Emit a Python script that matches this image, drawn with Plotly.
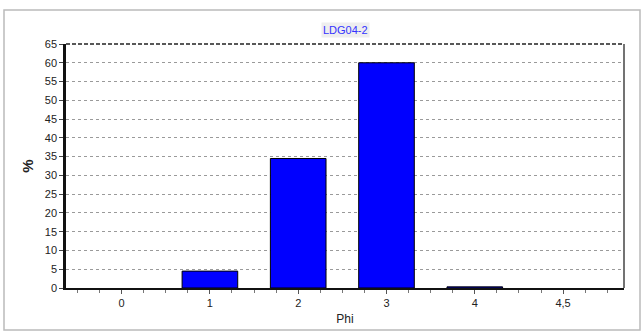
import plotly.graph_objects as go

categories = ["0", "1", "2", "3", "4", "4,5"]
values = [0.0, 4.5, 34.5, 60.0, 0.3, 0.0]
y_ticks = list(range(0, 70, 5))

xpos = list(range(len(categories)))
line_widths = [0 if v == 0 else 1 for v in values]

L, R, T, B = 66, 19, 44, 44
W, H = 643, 332
pw, ph = W - L - R, H - T - B

fig = go.Figure()
fig.add_trace(go.Bar(
    x=xpos, y=values, width=0.63,
    marker=dict(color="#0000FF", line=dict(color="black", width=line_widths)),
))

fig.update_layout(
    width=W, height=H,
    margin=dict(l=L, r=R, t=T, b=B, autoexpand=False),
    paper_bgcolor="white", plot_bgcolor="white",
    font=dict(family="Liberation Sans, Arial, sans-serif", size=11, color="#222"),
    showlegend=False,
    shapes=[
        dict(type="rect", xref="paper", yref="paper", x0=-(L - 4) / pw, x1=1 + (R - 3) / pw,
             y0=-(B - 2) / ph, y1=1 + (T - 10) / ph, line=dict(color="#bbbbbb", width=1.5),
             fillcolor="rgba(0,0,0,0)", layer="below"),
        dict(type="line", xref="paper", yref="paper", x0=0, x1=1, y0=1, y1=1,
             line=dict(color="#222", width=1.5, dash="4px,2px")),
        dict(type="line", xref="paper", yref="paper", x0=1, x1=1, y0=0, y1=1,
             line=dict(color="#444", width=1.5)),
    ],
    annotations=[dict(text="LDG04-2", xref="paper", yref="paper", x=0.5, y=1 + 14 / ph,
                      yanchor="middle", showarrow=False, bgcolor="#eeeeee",
                      font=dict(size=11, color="#3333ff", family="Liberation Sans, Arial"))],
)

fig.update_xaxes(
    range=[-0.63, 5.69],
    tickvals=xpos, ticktext=categories,
    showgrid=False, zeroline=False, automargin=False,
    showline=True, linecolor="#111", linewidth=2, mirror=False,
    ticks="outside", ticklen=4, tickcolor="#555",
    minor=dict(dtick=0.25, tick0=0, ticks="outside", ticklen=3, tickcolor="#777", showgrid=False),
    title=dict(text="Phi", font=dict(size=12, color="#222"), standoff=6),
)
fig.update_yaxes(
    range=[0, 65],
    tickvals=y_ticks,
    showgrid=True, gridcolor="#9a9a9a", griddash="3px,3px", gridwidth=1,
    zeroline=False, automargin=False,
    showline=True, linecolor="#111", linewidth=2.5,
    ticks="outside", ticklen=4, tickcolor="#444",
    title=dict(text="<b>%</b>", font=dict(size=15, color="#222"), standoff=8),
)

fig.write_html("out.html",
               config={"displayModeBar": False},
               post_script="document.body.style.margin='0';document.body.style.overflow='hidden';")
